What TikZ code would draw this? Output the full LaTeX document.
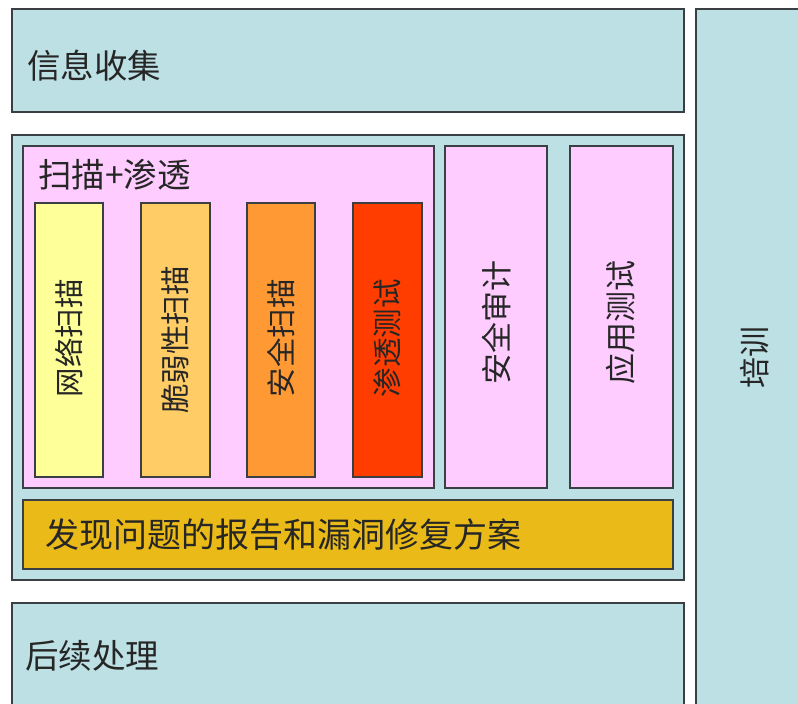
\documentclass[tikz,border=0pt]{standalone}
\usepackage{fontspec}
\setmainfont{Noto Sans CJK SC}
\definecolor{teal}{HTML}{BCE0E3}
\definecolor{pinkbg}{HTML}{FFCCFF}
\definecolor{colA}{HTML}{FFFF99}
\definecolor{colB}{HTML}{FFCC66}
\definecolor{colC}{HTML}{FF9933}
\definecolor{colD}{HTML}{FF3D00}
\definecolor{gold}{HTML}{E9BA18}
\definecolor{edge}{HTML}{3A3F44}
\definecolor{txt}{HTML}{262626}
\tikzset{
  box/.style={draw=edge, line width=1.4pt, rectangle, inner sep=0pt},
  bigtxt/.style={text=txt, inner sep=0pt, font=\fontsize{33.5}{36}\selectfont},
  coltxt/.style={text=txt, inner sep=0pt, rotate=90, font=\fontsize{29.5}{32}\selectfont},
  sidetxt/.style={text=txt, inner sep=0pt, rotate=90, font=\fontsize{31}{34}\selectfont},
}
\begin{document}
\begin{tikzpicture}[x=1pt,y=-1pt]
\useasboundingbox (0,0) rectangle (798,704);
\clip (0,0) rectangle (798,704);
\fill[white] (0,0) rectangle (798,704);
% outer boxes
\draw[box, fill=teal] (12,9) rectangle (684,112);
\draw[box, fill=teal] (12,135) rectangle (684,580);
\draw[box, fill=teal] (12,603) rectangle (684,720);
\draw[box, fill=teal] (696,9) rectangle (820,720);
\node[bigtxt, anchor=west] (infot) at (27,66) {信息收集};
\node[bigtxt, anchor=west] (postt) at (25,656) {后续处理};
\node[sidetxt] (train) at (755,357) {培训};
% pink containers
\draw[box, fill=pinkbg] (23,146) rectangle (434,488);
\draw[box, fill=pinkbg] (445,146) rectangle (547,488);
\draw[box, fill=pinkbg] (570,146) rectangle (673,488);
\node[bigtxt, anchor=west] (scan) at (38,175) {扫描+渗透};
\node[sidetxt] (audit) at (497,322) {安全审计};
\node[sidetxt] (apptest) at (621,322) {应用测试};
% columns
\draw[box, fill=colA] (35,203) rectangle (103,477);
\draw[box, fill=colB] (141,203) rectangle (210,477);
\draw[box, fill=colC] (247,203) rectangle (315,477);
\draw[box, fill=colD] (353,203) rectangle (422,477);
\node[coltxt] (c1) at (69,338) {网络扫描};
\node[coltxt] (c2) at (175.5,340) {脆弱性扫描};
\node[coltxt] (c3) at (281,338) {安全扫描};
\node[coltxt] (c4) at (387.5,338) {渗透测试};
% gold report box
\draw[box, fill=gold] (23,500) rectangle (673,569);
\node[bigtxt, anchor=west, font=\fontsize{34}{38}\selectfont] (report) at (45,535) {发现问题的报告和漏洞修复方案};
\end{tikzpicture}
\end{document}
